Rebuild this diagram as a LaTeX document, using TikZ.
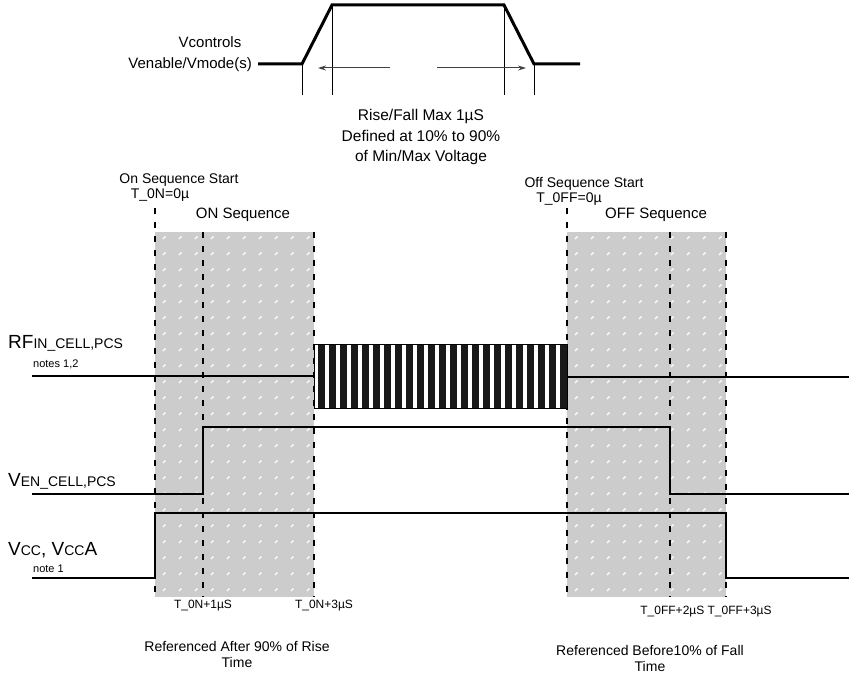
\documentclass[tikz,border=0pt]{standalone}
\usepackage{fontspec}
\setmainfont{Liberation Sans}
\usetikzlibrary{arrows.meta}
\newcommand{\fs}[1]{\fontsize{#1}{#1}\selectfont}
\begin{document}
\begin{tikzpicture}[x=1pt,y=-1pt,
  wave/.style={line width=2.7pt,line join=miter},
  topwave/.style={line width=3pt,line join=miter},
  marker/.style={line width=1pt},
  dimarrow/.style={line width=1pt,draw=black!75,-{Stealth[length=8pt,width=5pt]}},
  seqdash/.style={line width=2.4pt,dash pattern=on 6pt off 8pt},
  shade/.style={fill=black!20,draw=none},
  lbl/.style={inner sep=0pt,font=\fs{14}},
  small/.style={inner sep=0pt,font=\fs{12}},
  tiny/.style={inner sep=0pt,font=\fs{11}},
]
\useasboundingbox (0,0) rectangle (849,674);
\fill[white] (0,0) rectangle (849,674);

% ---------- top waveform ----------
\coordinate (t0) at (258,64);
\coordinate (t1) at (302,64);
\coordinate (t2) at (332,5);
\coordinate (t3) at (504,5);
\coordinate (t4) at (534,64);
\coordinate (t5) at (580,64);
\draw[topwave] (t0) -- (t1) -- (t2) -- (t3) -- (t4) -- (t5);
\draw[marker] (t1) -- (302,95);
\draw[marker] (t2) -- (332,95);
\draw[marker] (t3) -- (504,95);
\draw[marker] (t4) -- (534,95);
\coordinate (al0) at (390,68); \coordinate (al1) at (318,68);
\coordinate (ar0) at (437,68); \coordinate (ar1) at (526,68);
\draw[dimarrow] (al0) -- (al1);
\draw[dimarrow] (ar0) -- (ar1);
\node[lbl,font=\fs{15}] (vc) at (210,42) {Vcontrols};
\node[lbl,font=\fs{15},anchor=east] (ve) at (252,65) {Venable/Vmode(s)};
\node[lbl,font=\fs{15.5},align=center] (rf) at (421,137) {Rise/Fall Max 1µS\\[5pt]Defined at 10\% to 90\%\\[5pt]of Min/Max Voltage};

% ---------- shaded sequences ----------
\fill[shade] (155,232) rectangle (314,597);
\fill[shade] (567,232) rectangle (726,597);
\foreach \xx in {163,179,...,307} \foreach \yy in {239,255,...,592}
  \draw[white,line width=1.2pt] (\xx,\yy) -- ++(2.5,-2.5);
\foreach \xx in {575,591,...,719} \foreach \yy in {239,255,...,592}
  \draw[white,line width=1.2pt] (\xx,\yy) -- ++(2.5,-2.5);

\draw[seqdash] (155,208) -- (155,597);
\draw[seqdash] (203,232) -- (203,597);
\draw[seqdash] (314,232) -- (314,597);
\draw[seqdash] (567,208) -- (567,597);
\draw[seqdash] (670,232) -- (670,597);
\draw[seqdash] (726,232) -- (726,597);

\node[lbl,font=\fs{14}] (ons) at (179,180) {On Sequence Start};
\node[lbl,font=\fs{14}] (ont) at (160,195) {T\_0N=0µ};
\node[lbl,font=\fs{15}] (onq) at (243,215) {ON Sequence};
\node[lbl,font=\fs{14}] (ofs) at (584,184) {Off Sequence Start};
\node[lbl,font=\fs{14}] (oft) at (569,199) {T\_0FF=0µ};
\node[lbl,font=\fs{15}] (ofq) at (656,215) {OFF Sequence};

% ---------- RF ----------
\draw[line width=0.8pt,fill=white] (314,344) rectangle (567,408);
\foreach \i in {0,...,22}
  \fill[black!90] (318+11*\i,344) rectangle (324.5+11*\i,408);
\draw[line width=0.8pt] (314,344) rectangle (567,408);
\draw[wave] (32,376) -- (314,376);
\draw[wave] (567,377) -- (849,377);
\node[lbl,anchor=west] (rflab) at (8,343) {\fs{19}RF\fs{14}IN\_CELL,PCS};
\node[tiny,anchor=west] (rfn) at (33,364) {notes 1,2};

% ---------- VEN ----------
\coordinate (e0) at (32,494); \coordinate (e1) at (203,494);
\coordinate (e2) at (203,427); \coordinate (e3) at (670,427);
\coordinate (e4) at (670,494); \coordinate (e5) at (849,494);
\draw[wave] (e0) -- (e1) -- (e2) -- (e3) -- (e4) -- (e5);
\node[lbl,anchor=west] (venlab) at (8,481) {\fs{19}V\fs{14}EN\_CELL,PCS};

% ---------- VCC ----------
\coordinate (c0) at (32,578); \coordinate (c1) at (155,578);
\coordinate (c2) at (155,513); \coordinate (c3) at (726,513);
\coordinate (c4) at (726,578); \coordinate (c5) at (849,578);
\draw[wave] (c0) -- (c1) -- (c2) -- (c3) -- (c4) -- (c5);
\node[lbl,anchor=west] (vcclab) at (8,550) {\fs{19}V\fs{14}CC\fs{19}, V\fs{14}CC\fs{19}A};
\node[tiny,anchor=west] (vccn) at (33,569) {note 1};

% ---------- bottom labels ----------
\node[small] (b1) at (203,606) {T\_0N+1µS};
\node[small] (b2) at (324,606) {T\_0N+3µS};
\node[small] (b3) at (706,612) {T\_0FF+2µS T\_0FF+3µS};
\node[small,font=\fs{14},align=center] (r1) at (237,654) {Referenced After 90\% of Rise\\[2pt]Time};
\node[small,font=\fs{14},align=center] (r2) at (650,658) {Referenced Before10\% of Fall\\[2pt]Time};
\end{tikzpicture}
\end{document}
